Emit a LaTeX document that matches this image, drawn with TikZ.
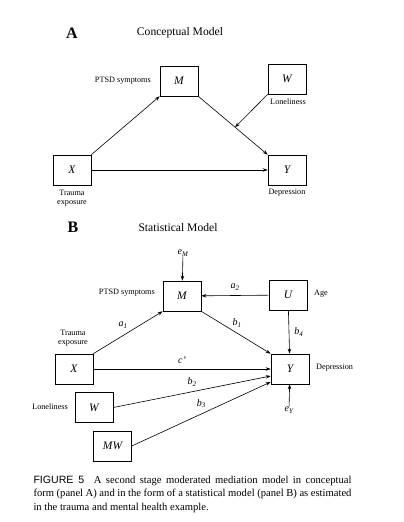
\documentclass[tikz,border=0pt]{standalone}
\usepackage{fontspec}
\setmainfont{Liberation Serif}
\newfontfamily\capsans{Liberation Sans}
\usetikzlibrary{calc,arrows.meta,positioning}

\begin{document}
\begin{tikzpicture}[x=1pt,y=-1pt,
  box/.style={draw, line width=0.6pt, minimum width=38pt, minimum height=30pt, inner sep=0pt, font=\fontsize{11.5}{12}\selectfont\itshape},
  lbl/.style={font=\fontsize{8.2}{9.6}\selectfont, align=center, inner sep=0pt},
  coef/.style={font=\fontsize{10}{11}\selectfont\itshape, inner sep=0pt},
  ttl/.style={font=\fontsize{11.6}{13}\selectfont},
  pnl/.style={font=\fontsize{16}{18}\selectfont\bfseries},
  link/.style={->, line width=0.6pt},
  >={Stealth[length=5pt,width=3.5pt]}]
\useasboundingbox (0,0) rectangle (404,522);

\node[pnl] (A) at (72,33) {A};
\node[ttl] (tA) at (180,33) {Conceptual Model};
\node[box] (aM) at (179,81) {M};
\node[box] (aW) at (287,79) {W};
\node[box] (aX) at (72,170) {X};
\node[box] (aY) at (287,170) {Y};
\node[lbl, anchor=east] (aMl) at (151,81) {PTSD symptoms};
\node[lbl] (aWl) at (288,102) {Loneliness};
\node[lbl] (aXl) at (72,198) {Trauma\\exposure};
\node[lbl] (aYl) at (287,193) {Depression};

\coordinate (mod) at ($(aM.south east)!0.53!(aY.north west)$);
\draw[link] (aX.north east) -- (aM.south west);
\draw[link] (aM.south east) -- (aY.north west);
\draw[link] (aX.east) -- (aY.west);
\draw[link] (aW.south west) -- (mod);

\node[pnl] (B) at (73,227) {B};
\node[ttl] (tB) at (178,228) {Statistical Model};
\node[box] (bM) at (182,296) {M};
\node[box] (bU) at (288,295) {U};
\node[box] (bY) at (290,369) {Y};
\node[box] (bX) at (74,369) {X};
\node[box] (bW) at (94,407.5) {W};
\node[box] (bMW) at (112.5,446) {MW};
\node[coef] (eM) at (183,253) {e\textsubscript{\textit{M}}};
\node[coef] (eY) at (289,410) {e\textsubscript{\textit{Y}}};
\node[lbl, anchor=east] (bMl) at (155,293) {PTSD symptoms};
\node[lbl, anchor=west] (bUl) at (314,294) {Age};
\node[lbl] (bXl) at (73,338) {Trauma\\exposure};
\node[lbl, anchor=east] (bWl) at (68,407) {Loneliness};
\node[lbl, anchor=west] (bYl) at (316,368) {Depression};

\draw[link] (eM) -- (bM);
\draw[link] (eY) -- (bY);
\draw[link] (bU) -- node[coef, above=5pt] {a\textsubscript{2}} (bM);
\draw[link] (bU) -- node[coef, right=5pt] {b\textsubscript{4}} (bY);
\draw[link] (bM.south east) -- node[coef, above=5pt, xshift=1pt] {b\textsubscript{1}} (bY.north west);
\draw[link] (bX.north east) -- node[coef, above=4pt, xshift=-5pt] {a\textsubscript{1}} (bM.south west);
\draw[link] (bX) -- node[coef, above=5pt] {c'} (bY);
\draw[link] (bW.east) -- node[coef, above=5pt] {b\textsubscript{2}} ([yshift=-7pt]bY.west);
\draw[link] (bMW.east) -- node[coef, above=6pt] {b\textsubscript{3}} ([yshift=-13pt]bY.west);

\node[anchor=north west, inner sep=0pt, text width=318pt, align=justify, font=\fontsize{10.6}{13.3}\selectfont] (cap) at (33.3,476)
  {{\capsans FIGURE 5}\hspace{0.9em}A second stage moderated mediation model in conceptual\linebreak form (panel A) and in the form of a statistical model (panel B) as estimated\linebreak in the trauma and mental health example.};
\end{tikzpicture}
\end{document}
